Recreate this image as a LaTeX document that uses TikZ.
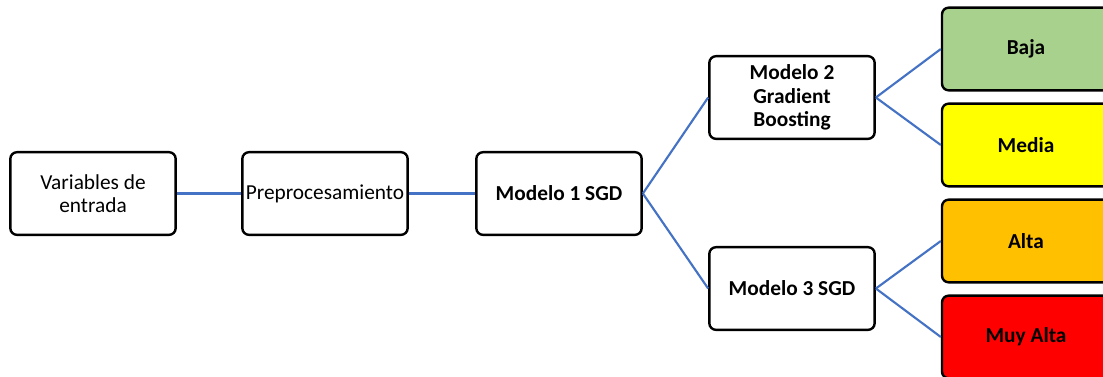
\documentclass[tikz,border=0pt]{standalone}
\usepackage{fontspec}
\setmainfont{Carlito}
\definecolor{linkblue}{RGB}{68,114,196}
\definecolor{baja}{RGB}{169,209,142}
\definecolor{media}{RGB}{255,255,0}
\definecolor{alta}{RGB}{255,192,0}
\definecolor{muyalta}{RGB}{255,0,0}
\tikzset{
  box/.style={draw=black, line width=1.8pt, rounded corners=5pt, fill=white,
    minimum width=124pt, minimum height=62pt, inner sep=2pt, align=center,
    font=\fontsize{16pt}{17.5pt}\selectfont},
  boldbox/.style={box, font=\fontsize{16pt}{17.5pt}\selectfont\bfseries},
  outbox/.style={boldbox, minimum width=126pt},
  link/.style={draw=linkblue, line width=1.6pt}
}
\begin{document}
\begin{tikzpicture}[x=0.75pt,y=-0.75pt]
\useasboundingbox (0,0) rectangle (1103,376);
\clip (0,0) rectangle (1103,376);
\node[box] (var) at (93,193.5) {Variables de\\entrada};
\node[box] (pre) at (325,193.5) {Preprocesamiento};
\node[boldbox] (m1) at (559,193.5) {Modelo 1 SGD};
\node[boldbox] (m2) at (792,97.5) {Modelo 2\\Gradient\\Boosting};
\node[boldbox] (m3) at (792,288.5) {Modelo 3 SGD};
\node[outbox, fill=baja] (baja) at (1026,49) {Baja};
\node[outbox, fill=media] (media) at (1026,145) {Media};
\node[outbox, fill=alta] (alta) at (1026,241) {Alta};
\node[outbox, fill=muyalta] (muy) at (1026,337) {Muy Alta};
\draw[link] (var.east) -- (pre.west);
\draw[link] (pre.east) -- (m1.west);
\draw[link] (m1.east) -- (m2.west);
\draw[link] (m1.east) -- (m3.west);
\draw[link] (m2.east) -- (baja.west);
\draw[link] (m2.east) -- (media.west);
\draw[link] (m3.east) -- (alta.west);
\draw[link] (m3.east) -- (muy.west);
\end{tikzpicture}
\end{document}
